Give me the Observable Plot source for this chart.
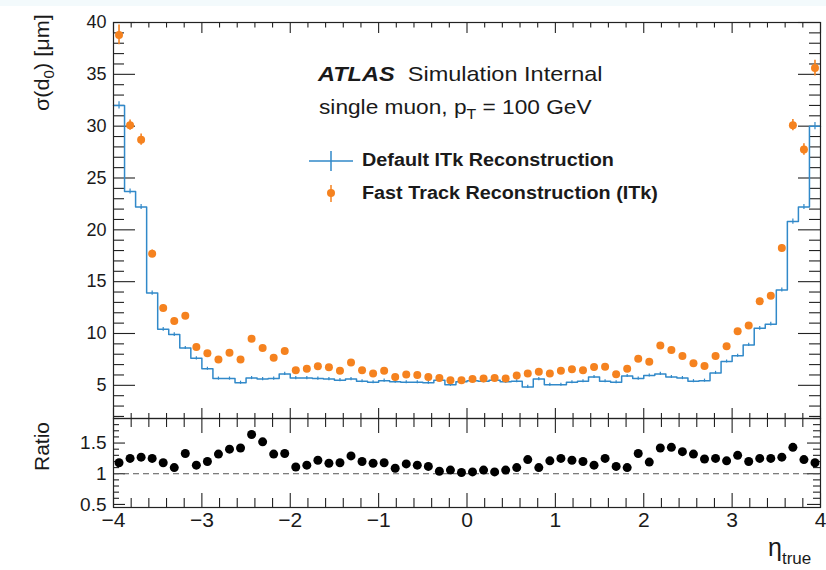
<!DOCTYPE html>
<html><head><meta charset="utf-8">
<script src="https://cdn.jsdelivr.net/npm/d3@7"></script>
<script src="https://cdn.jsdelivr.net/npm/@observablehq/plot@0.6"></script>
<style>
body{margin:0;background:#fff;font-family:"Liberation Sans",Arial,Helvetica,sans-serif;}
#wrap{position:relative;width:826px;height:570px;overflow:hidden;background:#fff;}
#band{position:absolute;left:0;top:0;width:826px;height:6px;background:#f3fafc;}
#top,#ratio{position:absolute;left:0;}
#top{top:0;} #ratio{top:416px;}
.lbl{position:absolute;white-space:nowrap;color:#1a1a1a;line-height:1;transform-origin:0 0;}
sub{font-size:70%;vertical-align:baseline;position:relative;top:0.35em;}
</style></head>
<body><div id="wrap"><div id="band"></div><div id="top"></div><div id="ratio"></div>
<div class="lbl" style="left:318px;top:63px;font-size:21px;transform:scaleX(1.12);"><b><i>ATLAS</i></b>&nbsp; Simulation Internal</div>
<div class="lbl" style="left:319px;top:96px;font-size:21px;transform:scaleX(1.08);">single muon, p<sub>T</sub> = 100 GeV</div>
<svg class="lbl" style="left:300px;top:145px;" width="60" height="65">
  <line x1="9" x2="53" y1="16" y2="16" stroke="#3189c9" stroke-width="1.5"/>
  <line x1="31" x2="31" y1="6" y2="26" stroke="#3189c9" stroke-width="1.5"/>
  <line x1="31" x2="31" y1="40" y2="57" stroke="#f5821f" stroke-width="1.5"/>
  <circle cx="31" cy="48" r="4" fill="#f5821f"/>
</svg>
<div class="lbl" style="left:362px;top:151px;font-size:18px;font-weight:bold;transform:scaleX(1.1);">Default ITk Reconstruction</div>
<div class="lbl" style="left:362px;top:184px;font-size:18px;font-weight:bold;transform:scaleX(1.1);">Fast Track Reconstruction (ITk)</div>
<div class="lbl" style="left:31px;top:111px;font-size:21px;transform:rotate(-90deg) scaleX(1.03);">σ(d<sub>0</sub>) [μm]</div>
<div class="lbl" style="left:31px;top:471px;font-size:21px;transform:rotate(-90deg);">Ratio</div>
<div class="lbl" style="left:768px;top:535px;font-size:25px;">η<sub style="font-size:17px;top:0.45em;">true</sub></div>
</div>
<script>
// ---- data ----
const etaMin = -4, etaMax = 4, nBins = 64;
const sigmaDefault = [32.0, 23.7, 22.2, 13.9, 10.4, 9.9, 8.6, 7.6, 6.6, 5.65,
  5.65, 5.25, 5.7, 5.6, 5.65, 6.1, 5.7, 5.7, 5.65, 5.6,
  5.5, 5.6, 5.4, 5.3, 5.45, 5.35, 5.3, 5.3, 5.25, 5.5,
  5.05, 5.35, 5.45, 5.4, 5.5, 5.35, 5.4, 4.85, 5.6, 5.05,
  5.05, 5.3, 5.4, 5.8, 5.4, 5.3, 5.9, 5.65, 5.95, 6.1,
  5.8, 5.7, 5.4, 5.45, 6.2, 7.3, 7.85, 8.9, 10.5, 10.9,
  14.2, 20.8, 22.2, 30.0];
const errDefault = [0.35, 0.25, 0.25, 0.2, 0.18, 0.18, 0.15, 0.15, 0.15, 0.15,
  0.15, 0.15, 0.15, 0.15, 0.15, 0.15, 0.15, 0.15, 0.15, 0.15,
  0.15, 0.15, 0.15, 0.15, 0.15, 0.15, 0.15, 0.15, 0.15, 0.15,
  0.15, 0.15, 0.15, 0.15, 0.15, 0.15, 0.15, 0.15, 0.15, 0.15,
  0.15, 0.15, 0.15, 0.15, 0.15, 0.15, 0.15, 0.15, 0.15, 0.15,
  0.15, 0.15, 0.15, 0.15, 0.15, 0.15, 0.15, 0.15, 0.18, 0.18,
  0.2, 0.25, 0.25, 0.35];
const sigmaFast = [38.8, 30.1, 28.7, 17.7, 12.45, 11.2, 11.7, 8.7, 8.1, 7.5,
  8.15, 7.5, 9.5, 8.6, 7.65, 8.3, 6.45, 6.6, 6.85, 6.75,
  6.4, 7.2, 6.45, 6.15, 6.4, 5.8, 6.05, 6.0, 5.8, 5.7,
  5.5, 5.5, 5.6, 5.65, 5.7, 5.65, 5.95, 6.15, 6.3, 6.15,
  6.4, 6.55, 6.45, 6.76, 6.79, 6.06, 6.6, 7.56, 7.27, 8.85,
  8.4, 7.82, 7.12, 6.86, 7.82, 8.78, 10.22, 10.77, 13.1, 13.65,
  18.24, 30.1, 27.75, 35.6];
const errFast = [0.95, 0.5, 0.55, 0.35, 0.3, 0.3, 0.3, 0.25, 0.2, 0.2,
  0.2, 0.2, 0.2, 0.2, 0.2, 0.2, 0.2, 0.2, 0.2, 0.2,
  0.2, 0.2, 0.2, 0.2, 0.2, 0.2, 0.2, 0.2, 0.2, 0.2,
  0.2, 0.2, 0.2, 0.2, 0.2, 0.2, 0.2, 0.2, 0.2, 0.2,
  0.2, 0.2, 0.2, 0.2, 0.2, 0.2, 0.2, 0.2, 0.2, 0.2,
  0.2, 0.2, 0.2, 0.2, 0.2, 0.25, 0.25, 0.25, 0.3, 0.3,
  0.35, 0.55, 0.55, 0.75];
const ratio = [1.18, 1.25, 1.27, 1.25, 1.18, 1.10, 1.33, 1.14, 1.20, 1.32,
  1.40, 1.42, 1.64, 1.52, 1.32, 1.33, 1.11, 1.14, 1.22, 1.17,
  1.18, 1.29, 1.20, 1.17, 1.18, 1.09, 1.16, 1.14, 1.12, 1.04,
  1.06, 1.02, 1.03, 1.06, 1.03, 1.06, 1.10, 1.23, 1.10, 1.21,
  1.25, 1.22, 1.20, 1.14, 1.25, 1.12, 1.10, 1.33, 1.19, 1.42,
  1.43, 1.36, 1.32, 1.24, 1.25, 1.21, 1.30, 1.20, 1.25, 1.25,
  1.27, 1.43, 1.23, 1.18];
const xTicks = [-4, -3, -2, -1, 0, 1, 2, 3, 4];
const yTicksTop = [5, 10, 15, 20, 25, 30, 35, 40];
const yTicksRatio = [0.5, 1, 1.5];

// ---- layout ----
const BLUE = "#3189c9", ORANGE = "#f5821f", INK = "#222";
const W = 826, ML = 113, MR = 6, PW = W - ML - MR;
const topH = 420, topMT = 22, topMB = 2, topPH = topH - topMT - topMB;
const rH = 154, rMT = 2, rMB = 63, rPH = rH - rMT - rMB;

const binW = (etaMax - etaMin) / nBins;
const bins = sigmaDefault.map((v, i) => {
  const lo = etaMin + i * binW, hi = lo + binW;
  return {lo, hi, c: (lo + hi) / 2, v, e: errDefault[i], f: sigmaFast[i], fe: errFast[i], r: ratio[i]};
});
const steps = bins.flatMap(b => [{x: b.lo, y: b.v}, {x: b.hi, y: b.v}]);

const xMinor = d3.range(0, 41).map(i => -4 + i * 0.2).filter(v => Math.abs(v - Math.round(v)) > 1e-6);
const yMinorTop = d3.range(2, 41).filter(v => v % 5 !== 0);
const yMinorRatio = d3.range(5, 20).map(i => i / 10).filter(v => Math.abs(v * 2 - Math.round(v * 2)) > 1e-6);

const tk = {stroke: INK, strokeWidth: 1.1};
function xt(vals, len, side, ph) {
  return Plot.ruleX(vals, side === "bottom" ? {...tk, insetTop: ph - len} : {...tk, insetBottom: ph - len});
}
function yt(vals, len, side) {
  return Plot.ruleY(vals, side === "left" ? {...tk, insetRight: PW - len} : {...tk, insetLeft: PW - len});
}
const baseStyle = {background: "transparent", color: "#1a1a1a", fontFamily: "'Liberation Sans', Arial, sans-serif", overflow: "visible"};

const topPlot = Plot.plot({
  width: W, height: topH, marginLeft: ML, marginRight: MR, marginTop: topMT, marginBottom: topMB,
  style: baseStyle,
  x: {domain: [etaMin, etaMax], axis: null},
  y: {domain: [1.8, 40], axis: null},
  marks: [
    xt(xTicks, 11, "top", topPH), xt(xMinor, 5.5, "top", topPH),
    xt(xTicks, 10, "bottom", topPH), xt(xMinor, 5, "bottom", topPH),
    yt(yTicksTop, 22, "left"), yt(yMinorTop, 11, "left"),
    yt(yTicksTop, 22, "right"), yt(yMinorTop, 11, "right"),
    Plot.line(steps, {x: "x", y: "y", stroke: BLUE, strokeWidth: 1.5}),
    Plot.ruleX(bins, {x: "c", y1: d => d.v - d.e, y2: d => d.v + d.e, stroke: BLUE, strokeWidth: 1.2}),
    Plot.ruleX(bins, {x: "c", y1: d => d.f - d.fe, y2: d => d.f + d.fe, stroke: ORANGE, strokeWidth: 1.6}),
    Plot.dot(bins, {x: "c", y: "f", r: 4, fill: ORANGE}),
    Plot.axisY(yTicksTop, {anchor: "left", tickSize: 0, tickPadding: 7, fontSize: 18, label: null}),
    Plot.frame({stroke: INK, strokeWidth: 1.2})
  ]
});
document.getElementById("top").appendChild(topPlot);

const ratioPlot = Plot.plot({
  width: W, height: rH, marginLeft: ML, marginRight: MR, marginTop: rMT, marginBottom: rMB,
  style: baseStyle,
  x: {domain: [etaMin, etaMax]},
  y: {domain: [0.45, 1.9]},
  marks: [
    xt(xTicks, 15, "top", rPH), xt(xMinor, 9, "top", rPH),
    xt(xTicks, 14, "bottom", rPH), xt(xMinor, 9, "bottom", rPH),
    yt(yTicksRatio, 12, "left"), yt(yMinorRatio, 6, "left"),
    yt(yTicksRatio, 13, "right"), yt(yMinorRatio, 7, "right"),
    Plot.ruleY([1], {stroke: "#555", strokeWidth: 1, strokeDasharray: "6,4"}),
    Plot.dot(bins, {x: "c", y: "r", r: 4.5, fill: "#000"}),
    Plot.axisY(yTicksRatio, {anchor: "left", tickSize: 0, tickPadding: 7, fontSize: 19, label: null, tickFormat: d => String(d)}),
    Plot.axisX(xTicks, {anchor: "bottom", tickSize: 0, tickPadding: 5, fontSize: 21, label: null}),
    Plot.frame({stroke: INK, strokeWidth: 1.2})
  ]
});
document.getElementById("ratio").appendChild(ratioPlot);
</script>
</body></html>
